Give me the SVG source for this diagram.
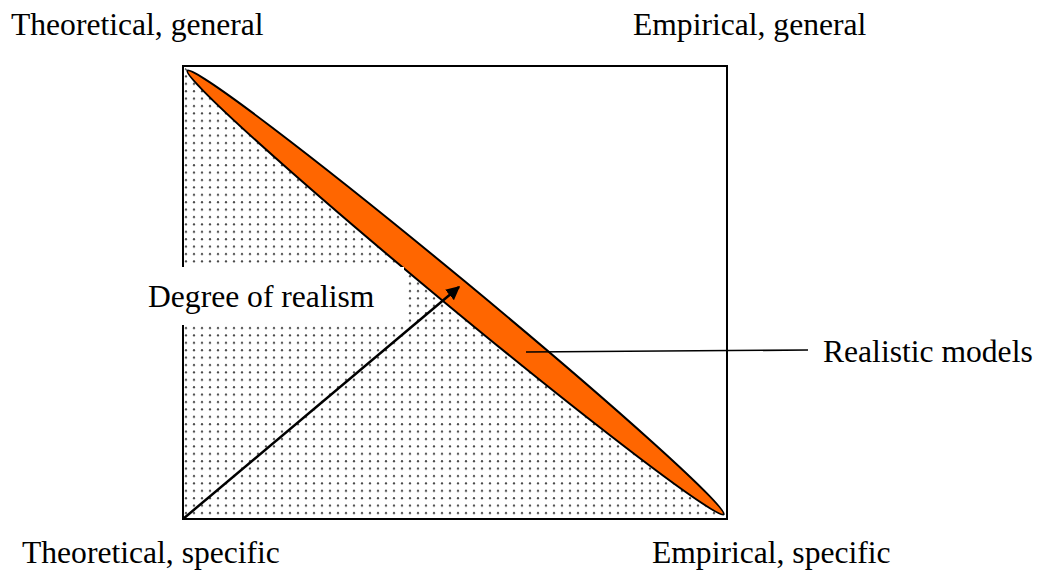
<svg xmlns="http://www.w3.org/2000/svg" width="1045" height="570" viewBox="0 0 1045 570">
<defs>
<pattern id="dots" x="183" y="66" width="8" height="7.4" patternUnits="userSpaceOnUse">
<circle cx="3" cy="3" r="1.1" fill="#444"/>
</pattern>
<marker id="arrow" viewBox="0 0 10 10" refX="9" refY="5" markerWidth="5.5" markerHeight="5.5" orient="auto" markerUnits="strokeWidth">
<path d="M0,0 L10,5 L0,10 Z" fill="#000"/>
</marker>
</defs>
<style>
.ln{stroke:#000;fill:none}
text{font-family:'Liberation Serif','Tinos','Noto Serif','DejaVu Serif','FreeSerif','Times New Roman',Times,serif;font-size:31.6px;fill:#000}
</style>
<rect width="1045" height="570" fill="#fff"/>
<g id="region">
<polygon points="183,66 183,519 727,519" fill="url(#dots)"/>
<rect x="183" y="66" width="544" height="453" fill="none" stroke="#000" stroke-width="2"/>
</g>
<g id="realistic-models-shape">
<ellipse cx="455.5" cy="292.5" rx="348" ry="14.5" fill="#FF6600" stroke="#000" stroke-width="2" transform="rotate(39.6 455.5 292.5)"/>
</g>
<g id="degree-label">
<rect x="138" y="267" width="266" height="58" fill="#fff"/>
<text x="148" y="307">Degree of realism</text>
</g>
<g id="corner-tg"><text x="11" y="35">Theoretical, general</text></g>
<g id="corner-eg"><text x="633" y="35">Empirical, general</text></g>
<g id="corner-ts"><text x="22" y="563">Theoretical, specific</text></g>
<g id="corner-es"><text x="652" y="563">Empirical, specific</text></g>
<g id="realistic-label"><text x="823" y="362">Realistic models</text></g>
<g id="connectors">
<line class="ln" x1="183" y1="519" x2="459" y2="287" stroke-width="2.5" marker-end="url(#arrow)"/>
<line class="ln" x1="526" y1="352" x2="808" y2="350" stroke-width="1.6"/>
</g>
</svg>
